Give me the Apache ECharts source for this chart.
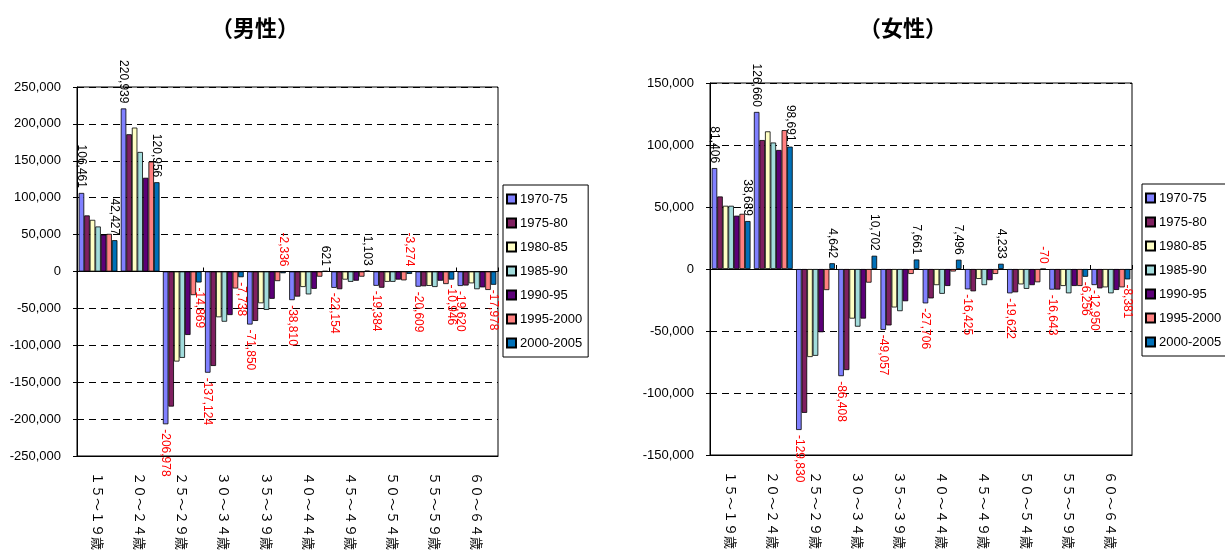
<!DOCTYPE html>
<html>
<head>
<meta charset="utf-8">
<script src="https://cdn.jsdelivr.net/npm/echarts@6/dist/echarts.min.js"></script>
<style>
  html, body { margin: 0; padding: 0; background: #fff; }
  #chart { width: 1225px; height: 554px; }
</style>
</head>
<body>
<div id="chart"></div>
<script>
// Age groups (category axis)
const ageGroups = ['１５～１９歳', '２０～２４歳', '２５～２９歳', '３０～３４歳', '３５～３９歳',
                   '４０～４４歳', '４５～４９歳', '５０～５４歳', '５５～５９歳', '６０～６４歳'];

// Five-year periods (series)
const periods = ['1970-75', '1975-80', '1980-85', '1985-90', '1990-95', '1995-2000', '2000-2005'];

// Male net migration by period
const male1970 = [106461, 220939, -206978, -137124, -71850, -38810, -22154, -19384, -20609, -19620];
const male1975 = [76000, 186000, -183000, -128000, -67000, -34000, -24000, -22000, -20000, -19000];
const male1980 = [70000, 195000, -122000, -62000, -43000, -21000, -11000, -14000, -19500, -16000];
const male1985 = [61000, 162000, -117000, -68000, -52000, -31000, -14000, -14000, -21000, -24000];
const male1990 = [50000, 127000, -86000, -59000, -37000, -23500, -12500, -11000, -12500, -21500];
const male1995 = [51000, 149000, -32000, -23000, -13000, -7000, -7000, -12000, -17000, -25000];
const male2000 = [42427, 120956, -14869, -7738, -2336, 621, 1103, -3274, -10946, -17978];

// Female net migration by period
const female1970 = [81406, 126660, -129830, -86408, -49057, -27706, -16425, -19622, -16643, -12950];
const female1975 = [58500, 104000, -116000, -81500, -45500, -23700, -18000, -18800, -16600, -15600];
const female1980 = [51000, 111000, -71000, -40000, -31000, -13000, -8000, -12400, -13700, -14800];
const female1985 = [51000, 102000, -70000, -46500, -34000, -20000, -13000, -16000, -19600, -19600];
const female1990 = [43000, 96000, -51000, -40000, -26000, -13700, -9000, -13000, -13700, -16900];
const female1995 = [44500, 112000, -17000, -11000, -4000, -2000, -4000, -10700, -13700, -14800];
const female2000 = [38689, 98691, 4642, 10702, 7661, 7496, 4233, -70, -6256, -8381];

// Axis ticks
const maleTicks = { min: -250000, max: 250000, step: 50000 };
const femaleTicks = { min: -150000, max: 150000, step: 50000 };

const maleSeries = [male1970, male1975, male1980, male1985, male1990, male1995, male2000];
const femaleSeries = [female1970, female1975, female1980, female1985, female1990, female1995, female2000];

const colors = ['#8080ff', '#7f2060', '#ffffc4', '#a2dcdc', '#5c0078', '#ff8080', '#0070b8'];
const fmt = v => v.toLocaleString('en-US');

// Value labels: black above positive bars, red below negative bars;
// small negatives sit just above the zero line.
function valueLabel(v) {
  const base = {
    show: true, rotate: -90, verticalAlign: 'middle', distance: 5,
    fontFamily: 'Liberation Sans', fontSize: 12,
    formatter: p => fmt(p.value)
  };
  if (v >= 0) return Object.assign(base, { position: 'top', align: 'right', color: '#000' });
  if (v > -5000) return Object.assign(base, { position: 'top', align: 'right', color: '#ff0000' });
  return Object.assign(base, { position: 'bottom', align: 'left', color: '#ff0000' });
}

function buildSeries(arrays, xIdx, yIdx) {
  return arrays.map((arr, i) => {
    const labelled = (i === 0 || i === arrays.length - 1);
    return {
      name: periods[i],
      type: 'bar',
      xAxisIndex: xIdx,
      yAxisIndex: yIdx,
      barGap: '0%',
      barCategoryGap: '8%',
      itemStyle: { color: colors[i], borderColor: '#000', borderWidth: 0.8 },
      data: arr.map(v => labelled ? { value: v, label: valueLabel(v) } : v)
    };
  });
}

const catFont = { fontFamily: 'Noto Sans CJK JP', fontSize: 13, color: '#000' };

function xAxes(gridIndex) {
  return [
    {
      type: 'category', gridIndex, data: ageGroups, position: 'bottom',
      axisLine: { onZero: false, lineStyle: { color: '#000' } },
      axisTick: { show: false },
      axisLabel: Object.assign({ rotate: -90, interval: 0, margin: 16 }, catFont)
    },
    {
      type: 'category', gridIndex, data: ageGroups, position: 'top',
      axisLine: { onZero: true, lineStyle: { color: '#000', width: 1 } },
      axisTick: { show: true, inside: false, length: 4, lineStyle: { color: '#000' } },
      axisLabel: { show: false }
    }
  ];
}

function yAxis(gridIndex, t) {
  return {
    type: 'value', gridIndex, min: t.min, max: t.max, interval: t.step,
    axisLine: { show: true, lineStyle: { color: '#000' } },
    axisTick: { show: true, length: 4, lineStyle: { color: '#000' } },
    axisLabel: { margin: 16, fontFamily: 'Liberation Sans', fontSize: 13, color: '#000', formatter: fmt },
    splitLine: { show: true, lineStyle: { color: '#000', type: [7, 5], width: 1 } }
  };
}

function legend(left, top) {
  return {
    orient: 'vertical', left, top, data: periods,
    icon: 'rect', itemWidth: 9, itemHeight: 9, itemGap: 10,
    padding: [7, 6, 7, 3],
    borderColor: '#000', borderWidth: 1, backgroundColor: '#fff',
    textStyle: { fontFamily: 'Liberation Sans', fontSize: 13, color: '#000', lineHeight: 14, padding: [0, 0, 0, -1] },
    selectedMode: false
  };
}

const titleStyle = { fontFamily: 'Noto Sans CJK JP', fontSize: 22, fontWeight: 'bold', color: '#000' };

const option = {
  animation: false,
  backgroundColor: '#fff',
  title: [
    { text: '（男性）', left: 250, top: 12, textAlign: 'center', textStyle: titleStyle },
    { text: '（女性）', left: 898, top: 12, textAlign: 'center', textStyle: titleStyle }
  ],
  legend: [legend(503, 185), legend(1142, 184)],
  grid: [
    { left: 77, top: 87, right: 727, bottom: 98, show: true, borderColor: '#000', borderWidth: 1 },
    { left: 710, top: 83, right: 93, bottom: 99, show: true, borderColor: '#000', borderWidth: 1 }
  ],
  xAxis: [...xAxes(0), ...xAxes(1)],
  yAxis: [yAxis(0, maleTicks), yAxis(1, femaleTicks)],
  series: [...buildSeries(maleSeries, 0, 0), ...buildSeries(femaleSeries, 2, 1)]
};

const chart = echarts.init(document.getElementById('chart'), null, { renderer: 'canvas' });
chart.setOption(option);
</script>
</body>
</html>
